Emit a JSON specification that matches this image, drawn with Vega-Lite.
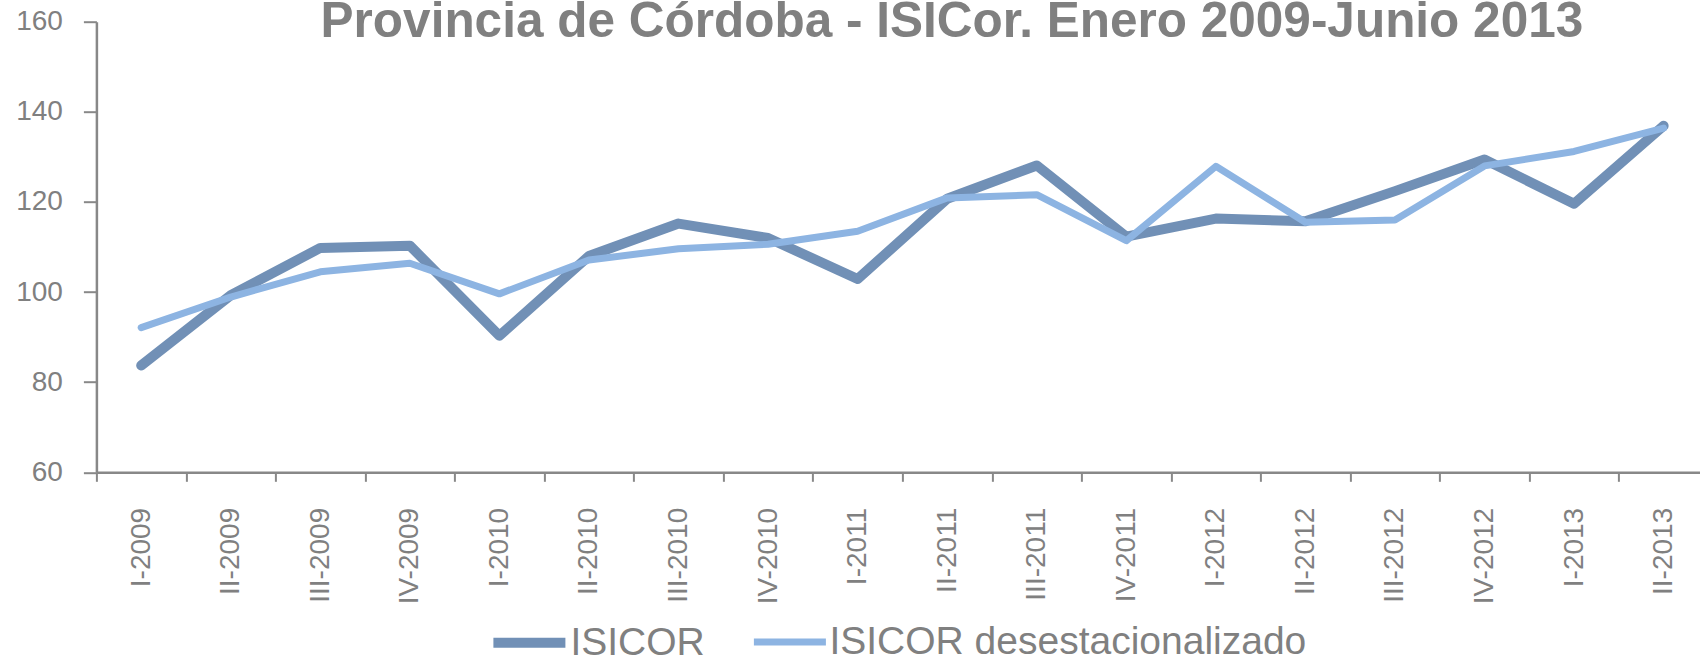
{
  "$schema": "https://vega.github.io/schema/vega-lite/v6.json",
  "autosize": {"type": "none"},
  "width": 1603.6,
  "height": 450.6,
  "padding": {"left": 96.4, "top": 21.7, "right": 0, "bottom": 185.7},
  "background": "white",
  "data": {
    "values": [
      {"periodo": "I-2009", "serie": "ISICOR", "valor": 83.7},
      {"periodo": "II-2009", "serie": "ISICOR", "valor": 99.3},
      {"periodo": "III-2009", "serie": "ISICOR", "valor": 109.8},
      {"periodo": "IV-2009", "serie": "ISICOR", "valor": 110.3},
      {"periodo": "I-2010", "serie": "ISICOR", "valor": 90.3},
      {"periodo": "II-2010", "serie": "ISICOR", "valor": 108.0},
      {"periodo": "III-2010", "serie": "ISICOR", "valor": 115.2},
      {"periodo": "IV-2010", "serie": "ISICOR", "valor": 112.0},
      {"periodo": "I-2011", "serie": "ISICOR", "valor": 102.9},
      {"periodo": "II-2011", "serie": "ISICOR", "valor": 120.7},
      {"periodo": "III-2011", "serie": "ISICOR", "valor": 128.1},
      {"periodo": "IV-2011", "serie": "ISICOR", "valor": 112.3},
      {"periodo": "I-2012", "serie": "ISICOR", "valor": 116.3},
      {"periodo": "II-2012", "serie": "ISICOR", "valor": 115.7},
      {"periodo": "III-2012", "serie": "ISICOR", "valor": 122.4},
      {"periodo": "IV-2012", "serie": "ISICOR", "valor": 129.4},
      {"periodo": "I-2013", "serie": "ISICOR", "valor": 119.6},
      {"periodo": "II-2013", "serie": "ISICOR", "valor": 136.9},
      {"periodo": "I-2009", "serie": "ISICOR desestacionalizado", "valor": 92.1},
      {"periodo": "II-2009", "serie": "ISICOR desestacionalizado", "valor": 98.9},
      {"periodo": "III-2009", "serie": "ISICOR desestacionalizado", "valor": 104.5},
      {"periodo": "IV-2009", "serie": "ISICOR desestacionalizado", "valor": 106.4},
      {"periodo": "I-2010", "serie": "ISICOR desestacionalizado", "valor": 99.6},
      {"periodo": "II-2010", "serie": "ISICOR desestacionalizado", "valor": 107.1},
      {"periodo": "III-2010", "serie": "ISICOR desestacionalizado", "valor": 109.6},
      {"periodo": "IV-2010", "serie": "ISICOR desestacionalizado", "valor": 110.6},
      {"periodo": "I-2011", "serie": "ISICOR desestacionalizado", "valor": 113.5},
      {"periodo": "II-2011", "serie": "ISICOR desestacionalizado", "valor": 120.9},
      {"periodo": "III-2011", "serie": "ISICOR desestacionalizado", "valor": 121.6},
      {"periodo": "IV-2011", "serie": "ISICOR desestacionalizado", "valor": 111.4},
      {"periodo": "I-2012", "serie": "ISICOR desestacionalizado", "valor": 127.9},
      {"periodo": "II-2012", "serie": "ISICOR desestacionalizado", "valor": 115.5},
      {"periodo": "III-2012", "serie": "ISICOR desestacionalizado", "valor": 116.0},
      {"periodo": "IV-2012", "serie": "ISICOR desestacionalizado", "valor": 128.0},
      {"periodo": "I-2013", "serie": "ISICOR desestacionalizado", "valor": 131.2},
      {"periodo": "II-2013", "serie": "ISICOR desestacionalizado", "valor": 136.4}
    ]
  },
  "mark": {"type": "line", "strokeCap": "round", "strokeJoin": "round"},
  "encoding": {
    "x": {
      "field": "periodo",
      "type": "nominal",
      "sort": null,
      "scale": {"range": [0, 1612], "paddingInner": 0, "paddingOuter": 0},
      "axis": {
        "title": null,
        "tickBand": "extent",
        "tickSize": 9,
        "tickWidth": 2,
        "tickColor": "#888888",
        "domainColor": "#888888",
        "domainWidth": 2.5,
        "labelAngle": 270,
        "labelPadding": 26,
        "labelFont": "Liberation Sans",
        "labelFontSize": 28,
        "labelColor": "#808080",
        "grid": false
      }
    },
    "y": {
      "field": "valor",
      "type": "quantitative",
      "scale": {"domain": [60, 160], "nice": false, "zero": false},
      "axis": {
        "title": "Provincia de Córdoba - ISICor. Enero 2009-Junio 2013",
        "titleAngle": 0,
        "titleX": 855,
        "titleY": 15,
        "titleAlign": "center",
        "titleBaseline": "alphabetic",
        "titleFont": "Liberation Sans",
        "titleFontSize": 49.5,
        "titleFontWeight": "bold",
        "titleColor": "#808080",
        "values": [60, 80, 100, 120, 140, 160],
        "tickSize": 13,
        "tickWidth": 2,
        "tickColor": "#888888",
        "domainColor": "#888888",
        "domainWidth": 2.5,
        "labelPadding": 21,
        "labelFont": "Liberation Sans",
        "labelFontSize": 28,
        "labelColor": "#808080",
        "grid": false
      }
    },
    "color": {
      "field": "serie",
      "type": "nominal",
      "scale": {"domain": ["ISICOR", "ISICOR desestacionalizado"], "range": ["#7190B6", "#8DB4E2"]},
      "legend": {
        "title": null,
        "orient": "none",
        "legendX": 392,
        "legendY": 580,
        "direction": "horizontal",
        "symbolType": "stroke",
        "symbolSize": 5184,
        "symbolOpacity": 1,
        "labelFont": "Liberation Sans",
        "labelFontSize": 39,
        "labelColor": "#808080",
        "labelOffset": 0,
        "labelLimit": 0,
        "columnPadding": 34,
        "padding": 0
      }
    },
    "strokeWidth": {
      "field": "serie",
      "type": "nominal",
      "scale": {"domain": ["ISICOR", "ISICOR desestacionalizado"], "range": [10, 7]},
      "legend": null
    }
  },
  "config": {"view": {"stroke": null}}
}
